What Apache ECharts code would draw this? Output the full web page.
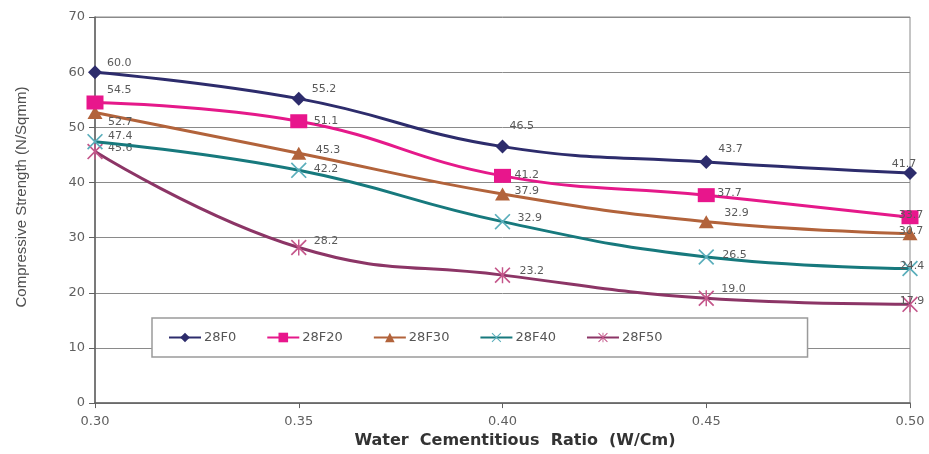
<!DOCTYPE html>
<html>
<head>
<meta charset="utf-8">
<title>Compressive Strength vs Water Cementitious Ratio</title>
<script src="https://cdn.jsdelivr.net/npm/echarts@6/dist/echarts.min.js"></script>
<style>
  html, body { margin: 0; padding: 0; background: #ffffff; }
  #chart { width: 929px; height: 454px; }
</style>
</head>
<body>
<div id="chart"></div>
<script>
// Water / cementitious ratios on the x axis
const ratios = ['0.30', '0.35', '0.40', '0.45', '0.50'];

// 28-day compressive strength (N/Sqmm) for each fly-ash mix
const mix28F0  = [60.0, 55.2, 46.5, 43.7, 41.7];
const mix28F20 = [54.5, 51.1, 41.2, 37.7, 33.7];
const mix28F30 = [52.7, 45.3, 37.9, 32.9, 30.7];
const mix28F40 = [47.4, 42.2, 32.9, 26.5, 24.4];
const mix28F50 = [45.6, 28.2, 23.2, 19.0, 17.9];

const seriesNames = ['28F0', '28F20', '28F30', '28F40', '28F50'];

// Strength axis range
const yMin = 0, yMax = 70, yStep = 10;

// Marker outlines
const crossPath = 'path://M1.5,0 L10,8.5 L18.5,0 L20,1.5 L11.5,10 L20,18.5 L18.5,20 L10,11.5 L1.5,20 L0,18.5 L8.5,10 L0,1.5 Z';
const starPath = crossPath + ' M9.1,0 L10.9,0 L10.9,20 L9.1,20 Z';

// Per-point label nudges [dx, dy] from the marker centre; the last point of each mix is centred
const labelNudges = [
  [[12, -9], [13, -9], [7, -20], [12, -13], [-6, -9]],
  [[12, -12], [15, 0], [12, -1], [11, -2], [1, -2]],
  [[13, 10], [17, -3], [12, -3], [18, -8], [1, -3]],
  [[13, -6], [15, -1], [15, -3], [16, -2], [2, -2]],
  [[13, -3], [15, -6], [17, -4], [15, -9], [2, -3]]
];

const looks = [
  { line: '#2d2c6c', mark: '#2d2c6c', symbol: 'diamond', size: [14, 14] },
  { line: '#e5198a', mark: '#e8168c', symbol: 'rect', size: [17, 14] },
  { line: '#b2633b', mark: '#b2633b', symbol: 'triangle', size: [15, 13] },
  { line: '#17797d', mark: '#5aaebb', symbol: crossPath, size: [16, 16] },
  { line: '#8c3566', mark: '#c4568a', symbol: starPath, size: [16, 16] }
];

const allValues = [mix28F0, mix28F20, mix28F30, mix28F40, mix28F50];

function buildSeries(idx) {
  const look = looks[idx];
  const values = allValues[idx];
  const last = values.length - 1;
  return {
    name: seriesNames[idx],
    type: 'line',
    smooth: 0.45,
    symbol: look.symbol,
    symbolSize: look.size,
    z: 10 - idx,
    lineStyle: { color: look.line, width: 3 },
    itemStyle: { color: look.mark },
    label: {
      show: true,
      position: 'inside',
      verticalAlign: 'middle',
      fontFamily: 'DejaVu Sans',
      fontSize: 11,
      color: '#5a5a5a',
      formatter: (p) => p.value.toFixed(1)
    },
    data: values.map((v, i) => ({
      value: v,
      label: {
        align: i === last ? 'center' : 'left',
        offset: labelNudges[idx][i]
      }
    }))
  };
}

const chart = echarts.init(document.getElementById('chart'), null, { renderer: 'canvas' });

chart.setOption({
  animation: false,
  backgroundColor: '#ffffff',
  textStyle: { fontFamily: 'DejaVu Sans' },
  grid: {
    left: 95, right: 19, top: 17, bottom: 44,
    show: true,
    borderColor: '#8a8a8a',
    borderWidth: 1
  },
  legend: {
    data: seriesNames,
    left: 152,
    top: 318,
    orient: 'horizontal',
    itemWidth: 32,
    itemHeight: 12,
    itemGap: 30,
    padding: [13, 145, 13, 16],
    borderColor: '#9a9a9a',
    borderWidth: 1.5,
    backgroundColor: '#ffffff',
    textStyle: { fontFamily: 'DejaVu Sans', fontSize: 13, color: '#555555', padding: [0, 0, 0, -2] }
  },
  xAxis: {
    type: 'category',
    data: ratios,
    boundaryGap: false,
    name: 'Water  Cementitious  Ratio  (W/Cm)',
    nameLocation: 'middle',
    nameGap: 20,
    nameTextStyle: {
      fontFamily: 'DejaVu Sans',
      fontWeight: 'bold',
      fontSize: 16,
      color: '#333333',
      padding: [0, 0, 0, 25]
    },
    axisLine: { show: true, lineStyle: { color: '#606060', width: 1.5 } },
    axisTick: { show: true, alignWithLabel: true, length: 5, lineStyle: { color: '#606060' } },
    axisLabel: { fontFamily: 'DejaVu Sans', fontSize: 13, color: '#606060', margin: 12 },
    splitLine: { show: false }
  },
  yAxis: {
    type: 'value',
    min: yMin,
    max: yMax,
    interval: yStep,
    name: 'Compressive Strength (N/Sqmm)',
    nameLocation: 'middle',
    nameGap: 66,
    nameTextStyle: {
      fontFamily: 'Liberation Sans',
      fontSize: 15,
      color: '#505050',
      padding: [0, 0, 0, 26]
    },
    axisLine: { show: true, lineStyle: { color: '#606060', width: 1.5 } },
    axisTick: { show: true, length: 6, lineStyle: { color: '#606060' } },
    axisLabel: { fontFamily: 'DejaVu Sans', fontSize: 13, color: '#606060', margin: 10 },
    splitLine: { show: true, lineStyle: { color: '#8a8a8a', width: 1 } }
  },
  series: seriesNames.map((_, i) => buildSeries(i))
});
</script>
</body>
</html>
